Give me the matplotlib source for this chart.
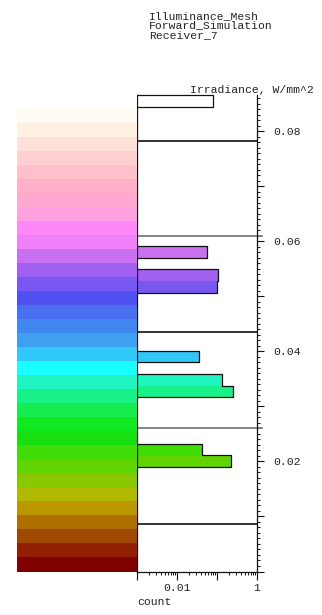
"""Irradiance histogram on a receiver, with a stepped colour legend on the left."""

import matplotlib
matplotlib.use("Agg")
import matplotlib.pyplot as plt
import numpy as np
from matplotlib.ticker import FixedLocator, FuncFormatter, MultipleLocator, LogLocator

# --- data -------------------------------------------------------------------
title_lines = ["Illuminance_Mesh", "Forward_Simulation", "Receiver_7"]
y_label = "Irradiance, W/mm^2"
x_label = "count"

y_max = 0.0866          # top of irradiance scale
n_bins = 41             # histogram bins across the scale
hist_bin_index = [9, 10, 15, 16, 18, 24, 25, 27, 40]        # counted from bottom
hist_counts = [0.220, 0.043, 0.247, 0.136, 0.036, 0.098, 0.108, 0.055, 0.081]

level_lines = [0.0087, 0.0261, 0.0435, 0.0609, 0.0783]
level_colors = ["#111111", "#707070", "#111111", "#707070", "#111111"]

# colour legend bands, bottom -> top
band_colors = [
    "#800000", "#902000", "#9e4800", "#b07000", "#bc9800", "#b0b800",
    "#88c800", "#60d400", "#40dc08", "#18e010", "#10e820", "#14ec50",
    "#18f088", "#20f4c0", "#18ffff", "#30c8f8", "#40a0f0", "#4088f0",
    "#4870f0", "#5050f0", "#7858f0", "#a060f0", "#c870f0", "#f080f8",
    "#ff88f8", "#ffa0e0", "#ffa8d0", "#ffb0c8", "#ffc0cc", "#ffd0d0",
    "#ffe0d8", "#fff0e4", "#fffaf2", "#ffffff",
]

x_min, x_max = 1e-3, 1.0
x_tick_labels = {0.01: "0.01", 1.0: "1"}

# --- figure -----------------------------------------------------------------
W, H = 322, 615
font = "Liberation Mono"
fs = 8.2
txt = "#222222"

fig = plt.figure(figsize=(W / 100, H / 100), dpi=100)
ax_l, ax_b, ax_w, ax_h = 137 / W, 1 - 571.5 / H, 120 / W, 476.5 / H
ax = fig.add_axes([ax_l, ax_b, ax_w, ax_h])
cax = fig.add_axes([17 / W, ax_b, 120 / W, ax_h])

# colour legend
band_h = y_max / len(band_colors)
band_centers = (np.arange(len(band_colors)) + 0.5) * band_h
cax.barh(band_centers, 1.0, height=band_h, color=band_colors, linewidth=0)
cax.set_xlim(0, 1)
cax.set_ylim(0, y_max)
cax.axis("off")

# histogram
bin_h = y_max / n_bins
bin_lo = np.array(hist_bin_index) * bin_h
bin_colors = [band_colors[min(int((b + bin_h / 2) / band_h), len(band_colors) - 1)]
              for b in bin_lo]
ax.barh(bin_lo, np.array(hist_counts) - x_min, left=x_min, height=bin_h,
        align="edge", color=bin_colors, linewidth=0)

# step outline around runs of adjacent bins
runs = []
for i, c in zip(hist_bin_index, hist_counts):
    if runs and runs[-1][-1][0] == i - 1:
        runs[-1].append((i, c))
    else:
        runs.append([(i, c)])
for run in runs:
    xs, ys = [x_min], [run[0][0] * bin_h]
    for i, c in run:
        xs += [c, c]
        ys += [i * bin_h, (i + 1) * bin_h]
    xs.append(x_min)
    ys.append((run[-1][0] + 1) * bin_h)
    ax.plot(xs, ys, color="#111111", lw=0.9, clip_on=False)

# level lines
trans = ax.get_yaxis_transform()
for y, c in zip(level_lines, level_colors):
    ax.plot([0, 1.0 if c == "#111111" else 1.04], [y, y], color=c,
            lw=1.2, transform=trans, clip_on=False)

ax.set_xscale("log")
ax.set_xlim(x_min, x_max)
ax.set_ylim(0, y_max)

ax.spines["top"].set_visible(False)
for s in ["left", "right", "bottom"]:
    ax.spines[s].set_color("#111111")
    ax.spines[s].set_linewidth(0.9)

# y axis on the right
ax.yaxis.tick_right()
ax.yaxis.set_major_locator(MultipleLocator(0.01))
ax.yaxis.set_minor_locator(MultipleLocator(0.001))
ax.yaxis.set_major_formatter(FuncFormatter(
    lambda v, p: f"{v:.2f}" if round(v * 100) % 2 == 0 and v > 0.001 else ""))
ax.tick_params(axis="y", which="major", length=5, width=0.8, pad=6.5,
               labelsize=fs, labelcolor=txt, color="#111111")
ax.tick_params(axis="y", which="minor", length=2.4, width=0.7, color="#111111")

# x axis (log count)
ax.xaxis.set_major_locator(FixedLocator([1e-3, 1e-2, 1e-1, 1.0]))
ax.xaxis.set_minor_locator(LogLocator(base=10, subs=np.arange(2, 10)))
ax.xaxis.set_major_formatter(FuncFormatter(
    lambda v, p: next((t for k, t in x_tick_labels.items() if np.isclose(v, k)), "")))
ax.xaxis.set_minor_formatter(FuncFormatter(lambda v, p: ""))
ax.tick_params(axis="x", which="major", length=5.8, width=0.8, pad=2.5,
               labelsize=fs, labelcolor=txt, color="#111111")
ax.tick_params(axis="x", which="minor", length=2.2, width=0.7, color="#111111")

for lab in ax.get_xticklabels() + ax.get_yticklabels():
    lab.set_fontfamily(font)

# texts
for k, line in enumerate(title_lines):
    fig.text(149 / W, 1 - (19 + 9.4 * k) / H, line, ha="left", va="baseline",
             fontsize=fs, family=font, color=txt)
fig.text(190.5 / W, 1 - 93 / H, y_label, ha="left", va="baseline",
         fontsize=fs, family=font, color=txt)
fig.text(137 / W, 1 - 605 / H, x_label, ha="left", va="baseline",
         fontsize=fs, family=font, color=txt)

fig.savefig("out.png", dpi=100)
plt.close(fig)
